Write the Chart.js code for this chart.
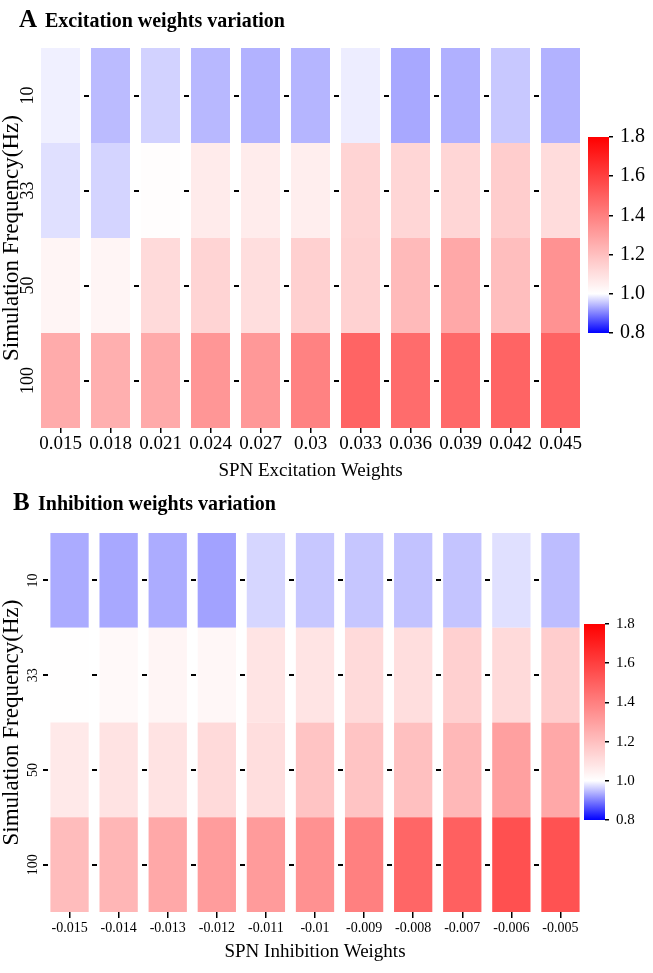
<!DOCTYPE html>
<html><head><meta charset="utf-8">
<script src="https://cdn.jsdelivr.net/npm/chart.js@4"></script>
<style>
html,body{margin:0;padding:0;background:#fff;}
body{width:653px;height:973px;position:relative;overflow:hidden;}
canvas{position:absolute;}
</style></head><body>
<canvas id="mainA" width="653" height="490" style="left:0;top:0;width:653px;height:490px"></canvas>
<canvas id="barA" width="73" height="250" style="left:580px;top:110px;width:73px;height:250px"></canvas>
<canvas id="mainB" width="653" height="483" style="left:0;top:490px;width:653px;height:483px"></canvas>
<canvas id="barB" width="77" height="250" style="left:576px;top:597px;width:77px;height:250px"></canvas>
<script>
// ---- data ----
const excWeights = ['0.015','0.018','0.021','0.024','0.027','0.03','0.033','0.036','0.039','0.042','0.045'];
const inhWeights = ['-0.015','-0.014','-0.013','-0.012','-0.011','-0.01','-0.009','-0.008','-0.007','-0.006','-0.005'];
const freqLabels = ['10','33','50','100'];

const excRow10  = [0.988,0.947,0.965,0.944,0.940,0.942,0.986,0.932,0.938,0.957,0.940];
const excRow33  = [0.976,0.966,1.005,1.063,1.060,1.053,1.135,1.130,1.128,1.157,1.110];
const excRow50  = [1.030,1.030,1.116,1.135,1.104,1.147,1.140,1.216,1.273,1.204,1.342];
const excRow100 = [1.264,1.250,1.267,1.330,1.323,1.392,1.486,1.460,1.470,1.486,1.490];

const inhRow10  = [0.934,0.932,0.935,0.927,0.968,0.956,0.955,0.952,0.954,0.976,0.948];
const inhRow33  = [1.003,1.020,1.030,1.025,1.084,1.084,1.116,1.104,1.147,1.116,1.157];
const inhRow50  = [1.069,1.088,1.088,1.116,1.104,1.185,1.185,1.198,1.223,1.298,1.273];
const inhRow100 = [1.210,1.229,1.273,1.310,1.313,1.345,1.400,1.480,1.500,1.550,1.543];

const colorbarTicks = [0.8,1.0,1.2,1.4,1.6,1.8];
const colorMin = 0.8, colorMid = 1.0, colorMax = 1.8;

// ---- colour scale ----
function colorFor(v){
  if (v >= colorMid){
    const t = Math.min((v-colorMid)/(colorMax-colorMid),1);
    const c = Math.round(255*(1-t));
    return `rgb(255,${c},${c})`;
  } else {
    const s = Math.min((colorMid-v)/(colorMid-colorMin),1);
    const c = Math.round(255*(1-s));
    return `rgb(${c},${c},255)`;
  }
}

Chart.defaults.font.family = '"Liberation Serif","Times New Roman",serif';
Chart.defaults.color = '#000';

const panelDecor = {
  id: 'panelDecor',
  afterDraw(chart, args, o){
    const ctx = chart.ctx;
    const meta = chart.getDatasetMeta(0);
    const yScale = chart.scales.y;
    ctx.save();
    ctx.fillStyle = '#000';
    meta.data.forEach((bar, i) => {
      if (i < o.firstDash) return;
      const left = bar.x - bar.width/2;
      yScale.ticks.forEach(t => {
        const y = yScale.getPixelForValue(t.value);
        ctx.fillRect(Math.round(left - 7), Math.round(y - 1), 5, 2);
      });
    });
    ctx.textBaseline = 'alphabetic';
    ctx.textAlign = 'left';
    ctx.font = 'bold 25px "Liberation Serif"';
    ctx.fillText(o.letter, o.letterX, o.baseY);
    ctx.font = 'bold 20px "Liberation Serif"';
    ctx.fillText(o.title, o.titleX, o.baseY);
    ctx.restore();
  }
};

function makePanel(id, cfg){
  const rowsBottomUp = [cfg.rows[3], cfg.rows[2], cfg.rows[1], cfg.rows[0]];
  const labelsBottomUp = [freqLabels[3], freqLabels[2], freqLabels[1], freqLabels[0]];
  new Chart(document.getElementById(id), {
    type: 'bar',
    data: {
      labels: cfg.weights,
      datasets: rowsBottomUp.map((row, k) => ({
        label: labelsBottomUp[k] + ' Hz',
        data: row.map(() => 1),
        values: row,
        backgroundColor: row.map(colorFor),
        borderWidth: 0,
        categoryPercentage: 1,
        barPercentage: 0.78
      }))
    },
    plugins: [panelDecor],
    options: {
      responsive: false, animation: false,
      layout: { padding: { top: cfg.padTop, right: cfg.padRight, left: 0, bottom: 0 } },
      plugins: {
        legend: { display: false }, tooltip: { enabled: false },
        panelDecor: cfg.decor
      },
      scales: {
        x: {
          stacked: true,
          grid: { display: true, drawOnChartArea: false, drawTicks: true, tickLength: cfg.xTickLen, color: '#000', lineWidth: 1.5, offset: false },
          border: { display: false },
          ticks: { font: { size: cfg.xFont }, color: '#000', padding: cfg.xPad, maxRotation: 0, minRotation: 0, autoSkip: false },
          title: { display: true, text: cfg.xTitle, font: { size: 19 }, color: '#000', padding: { top: 0, bottom: cfg.xTitlePad } },
          afterFit: s => { s.height = cfg.xHeight; }
        },
        y: {
          stacked: true, min: 0, max: 4,
          afterBuildTicks: s => { s.ticks = [0.5,1.5,2.5,3.5].map(v => ({ value: v })); },
          ticks: {
            callback: (v, i) => labelsBottomUp[i],
            minRotation: 90, maxRotation: 90, crossAlign: 'center',
            padding: cfg.yPad, font: { size: cfg.yFont }, color: '#000'
          },
          grid: { display: false, drawTicks: false },
          border: { display: false },
          title: { display: true, text: 'Simulation Frequency(Hz)', font: { size: 23, lineHeight: 1 }, color: '#000', padding: 0 },
          afterFit: s => { s.width = cfg.yWidth; }
        }
      }
    }
  });
}

function makeColorbar(id, cfg){
  new Chart(document.getElementById(id), {
    type: 'bar',
    data: {
      labels: [''],
      datasets: [{
        data: [[colorMin, colorMax]],
        borderWidth: 0, barPercentage: 1, categoryPercentage: 1,
        backgroundColor: (c) => {
          const chart = c.chart; const a = chart.chartArea;
          if (!a) return 'rgba(0,0,0,0)';
          const ys = chart.scales.y;
          const g = chart.ctx.createLinearGradient(0, ys.getPixelForValue(colorMin), 0, ys.getPixelForValue(colorMax));
          for (let k = 0; k <= 50; k++){
            const v = colorMin + (colorMax-colorMin)*k/50;
            g.addColorStop(k/50, colorFor(v));
          }
          return g;
        }
      }]
    },
    options: {
      responsive: false, animation: false,
      layout: { padding: { left: cfg.padLeft, top: cfg.padTop, bottom: cfg.padBottom, right: 0 } },
      plugins: { legend: { display: false }, tooltip: { enabled: false } },
      scales: {
        x: { display: false },
        y: {
          position: 'right', min: colorMin, max: colorMax,
          afterBuildTicks: s => { s.ticks = colorbarTicks.map(v => ({ value: v })); },
          ticks: { callback: v => Number(v).toFixed(1), font: { size: cfg.font }, color: '#000', padding: cfg.labelPad },
          grid: { display: true, drawOnChartArea: false, drawTicks: true, tickLength: 4, color: '#000', lineWidth: 1.5 },
          border: { display: false },
          afterFit: s => { s.width = cfg.axisWidth; }
        }
      }
    }
  });
}

makePanel('mainA', {
  weights: excWeights, rows: [excRow10, excRow33, excRow50, excRow100],
  padTop: 48, padRight: 67.5, yWidth: 35.5, xHeight: 62,
  xFont: 19, xPad: 0, xTickLen: 5, xTitle: 'SPN Excitation Weights', xTitlePad: 8,
  yFont: 18, yPad: -6,
  decor: { firstDash: 1, letter: 'A', letterX: 19, titleX: 45, baseY: 27, title: 'Excitation weights variation' }
});
makePanel('mainB', {
  weights: inhWeights, rows: [inhRow10, inhRow33, inhRow50, inhRow100],
  padTop: 43, padRight: 68, yWidth: 45, xHeight: 61,
  xFont: 14, xPad: 2, xTickLen: 6, xTitle: 'SPN Inhibition Weights', xTitlePad: 10,
  yFont: 14, yPad: 1,
  decor: { firstDash: 0, letter: 'B', letterX: 13, titleX: 38, baseY: 20, title: 'Inhibition weights variation' }
});
makeColorbar('barA', { padLeft: 8, padTop: 27, padBottom: 27, axisWidth: 44, font: 20, labelPad: 7 });
makeColorbar('barB', { padLeft: 8, padTop: 27, padBottom: 27, axisWidth: 48, font: 15, labelPad: 7 });
</script>
</body></html>
